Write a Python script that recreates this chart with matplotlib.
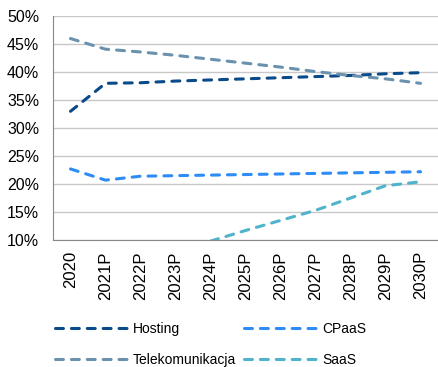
import matplotlib.pyplot as plt

plt.rcParams['font.family'] = ['Liberation Sans', 'DejaVu Sans']

years = ['2020', '2021P', '2022P', '2023P', '2024P', '2025P', '2026P', '2027P', '2028P', '2029P', '2030P']
hosting = [33.0, 38.0, 38.1, 38.4, 38.6, 38.8, 39.0, 39.2, 39.4, 39.7, 39.9]
cpaas = [22.7, 20.7, 21.4, 21.5, 21.6, 21.7, 21.8, 21.9, 22.0, 22.1, 22.2]
telekom = [46.0, 44.1, 43.6, 43.0, 42.3, 41.6, 40.9, 40.1, 39.4, 38.8, 38.0]
saas = [5.0, 6.0, 7.0, 8.0, 9.8, 11.7, 13.5, 15.3, 17.5, 19.7, 20.4]

series = {
    'Hosting': (hosting, '#0b4a8a'),
    'CPaaS': (cpaas, '#2d8cf5'),
    'Telekomunikacja': (telekom, '#6a91ad'),
    'SaaS': (saas, '#4fb3cc'),
}

fig = plt.figure(figsize=(4.38, 3.67), dpi=100)
ax = fig.add_axes([0.121, 0.346, 0.879, 0.61])

x = range(len(years))
lines = {}
for name, (vals, col) in series.items():
    lines[name], = ax.plot(x, vals, color=col, lw=2.2, dashes=(2.6, 2.6),
                           dash_capstyle='round', label=name)

ax.set_xlim(-0.5, len(years) - 0.5)
ax.set_ylim(10, 50)
ax.set_yticks(range(10, 51, 5))
ax.set_yticklabels([f'{v}%' for v in range(10, 51, 5)], fontsize=11.5)
ax.set_xticks(list(x))
ax.set_xticklabels(years, rotation=90, fontsize=12)
ax.tick_params(axis='y', length=0, pad=10)
ax.tick_params(axis='x', length=0, pad=8)
ax.grid(axis='y', color='#c8c8c8', lw=1)
ax.set_axisbelow(True)
for s in ['top', 'right']:
    ax.spines[s].set_visible(False)
for s in ['left', 'bottom']:
    ax.spines[s].set_color('#888888')

# legend fills column by column, so order gives Hosting/CPaaS on the first row
order = ['Hosting', 'Telekomunikacja', 'CPaaS', 'SaaS']
fig.legend([lines[n] for n in order], order, loc='upper left',
           bbox_to_anchor=(0.1256, 0.1225), ncol=2, frameon=False,
           fontsize=10, handlelength=5.2, handletextpad=0.4,
           columnspacing=0.6, labelspacing=1.2, borderpad=0,
           borderaxespad=0)

fig.savefig('out.png', dpi=100)
